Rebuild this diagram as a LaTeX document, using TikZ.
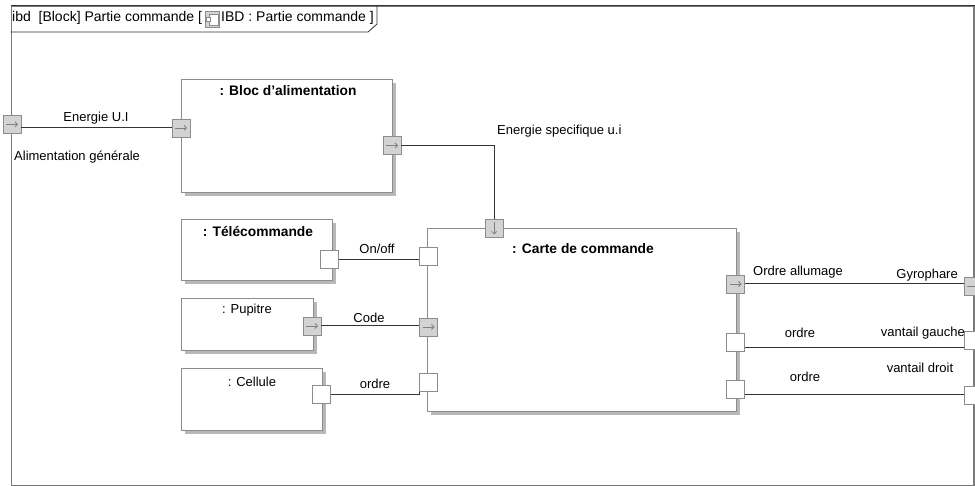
\documentclass[tikz,border=0pt]{standalone}
\usepackage{fontspec}
\setmainfont{Liberation Sans}
\usetikzlibrary{arrows.meta,shadows}
\definecolor{boxgray}{HTML}{8C8C8C}
\definecolor{framegray}{HTML}{7A7A7A}
\definecolor{portfill}{HTML}{D3D3D3}
\definecolor{shadowgray}{HTML}{B8B8B8}
\definecolor{linedark}{HTML}{333333}
\definecolor{arrowgray}{HTML}{808080}
\begin{document}
\begin{tikzpicture}[x=1pt,y=-1pt,
  every node/.style={font=\fontsize{13}{15}\selectfont, inner sep=0pt},
  blockbox/.style={draw=boxgray, line width=1.2pt, fill=white, anchor=north west,
    drop shadow={shadow xshift=3pt, shadow yshift=-3pt, fill=shadowgray, opacity=1}},
  btitle/.style={font=\fontsize{13.8}{16}\selectfont\bfseries},
  ntitle/.style={font=\fontsize{13}{15}\selectfont},
  port/.style={draw=boxgray, line width=0.8pt, minimum size=18pt, inner sep=0pt},
  portw/.style={port, fill=white},
  porta/.style={port, fill=portfill, path picture={\draw[arrowgray, line width=0.8pt, -{Straight Barb[length=2.5pt,width=5pt]}] ([xshift=-6pt]path picture bounding box.center) -- ([xshift=6pt]path picture bounding box.center);}},
  portd/.style={port, fill=portfill, path picture={\draw[arrowgray, line width=0.8pt, -{Straight Barb[length=2.5pt,width=5pt]}] ([yshift=6pt]path picture bounding box.center) -- ([yshift=-6pt]path picture bounding box.center);}},
  conn/.style={draw=linedark, line width=1pt},
  lbl/.style={font=\fontsize{13}{15}\selectfont},
  ttl/.style={anchor=west, font=\fontsize{14}{16}\selectfont}
]
\useasboundingbox (0,0) rectangle (975,486);
\fill[white] (0,0) rectangle (975,486);

% frame
\node (frame) [draw=framegray, line width=1.5pt, minimum width=962.5pt, minimum height=479pt, anchor=north west] at (10.5,6) {};
\draw[linedark, line width=1pt] (frame.north west) -- (frame.north east);
\draw[linedark, line width=0.8pt] (10.5,32) -- (368,32) -- (377,24) -- (377,6);
\node (ttl1) [ttl] at (12,18) {ibd\ \ [Block] Partie commande [};
\node (icon) [draw=boxgray, fill=portfill, line width=0.6pt, minimum width=14pt, minimum height=16pt] at (212.5,19) {};
\draw[boxgray, fill=white, line width=0.5pt] (209,14) rectangle (218,25);
\draw[boxgray, fill=white, line width=0.5pt] (206.5,17.5) rectangle (210.5,21.5);
\node (ttl2) [ttl] at (221,18) {IBD : Partie commande ]};

% blocks
\node (bloc) [blockbox, minimum width=211pt, minimum height=113pt] at (181,79) {};
\node (tele) [blockbox, minimum width=151pt, minimum height=61pt] at (181,219) {};
\node (pup)  [blockbox, minimum width=132pt, minimum height=52pt] at (181,298) {};
\node (cell) [blockbox, minimum width=141pt, minimum height=62pt] at (181,368) {};
\node (carte)[blockbox, minimum width=309pt, minimum height=183pt] at (427,228) {};

\node (tbloc) [btitle] at (288,91) {: Bloc d'alimentation};
\node (ttele) [btitle] at (258,232) {: Télécommande};
\node (tpup)  [ntitle] at (247,310) {: Pupitre};
\node (tcell) [ntitle] at (252,382) {: Cellule};
\node (tcarte)[btitle] at (583,249) {: Carte de commande};

% ports
\node (pin)    [porta] at (12,124.5) {};
\node (blin)   [porta] at (181,128) {};
\node (blout)  [porta] at (392,145.5) {};
\node (cartop) [portd] at (494,228.5) {};
\node (telep)  [portw] at (329.5,259.5) {};
\node (con)    [portw] at (428.5,256) {};
\node (pupp)   [porta] at (312,326) {};
\node (ccode)  [porta] at (428.5,327) {};
\node (cellp)  [portw] at (321.5,394.5) {};
\node (cord)   [portw] at (428.5,382.5) {};
\node (cr1)    [porta] at (735.5,284) {};
\node (cr2)    [portw] at (735.5,342.5) {};
\node (cr3)    [portw] at (735.5,389) {};
\node (gyro)   [porta] at (973,286.5) {};
\node (vg)     [portw] at (973,340.5) {};
\node (vd)     [portw] at (973,395) {};

% connectors
\draw[conn] (pin.east |- blin.west) -- (blin.west);
\draw[conn] (blout.east) -| (cartop.north);
\draw[conn] (telep.east) -- (con.west |- telep.east);
\draw[conn] (pupp.east) -- (ccode.west |- pupp.east);
\draw[conn] (cellp.east) -- (cord.south west |- cellp.east) -- (cord.south west);
\draw[conn] (cr1.east) -- (gyro.west |- cr1.east);
\draw[conn] ([yshift=-5.5pt]cr2.east) -- ([yshift=-5.5pt]cr2.east -| vg.west);
\draw[conn] ([yshift=-5pt]cr3.east) -- ([yshift=-5pt]cr3.east -| vd.west);

% labels
\node (l1) [lbl] at (96,118) {Energie U.I};
\node (l2) [lbl, anchor=west] at (14,157) {Alimentation générale};
\node (l3) [lbl, anchor=west] at (497,131) {Energie specifique u.i};
\node (l4) [lbl] at (377,249) {On/off};
\node (l5) [lbl] at (369,318) {Code};
\node (l6) [lbl] at (375,384) {ordre};
\node (l7) [lbl, anchor=west] at (753,272) {Ordre allumage};
\node (l8) [lbl, anchor=east] at (958,275) {Gyrophare};
\node (l9) [lbl] at (800,333) {ordre};
\node (l10) [lbl, anchor=east] at (965,333) {vantail gauche};
\node (l11) [lbl] at (920,368) {vantail droit};
\node (l12) [lbl] at (805,377) {ordre};
\end{tikzpicture}
\end{document}
